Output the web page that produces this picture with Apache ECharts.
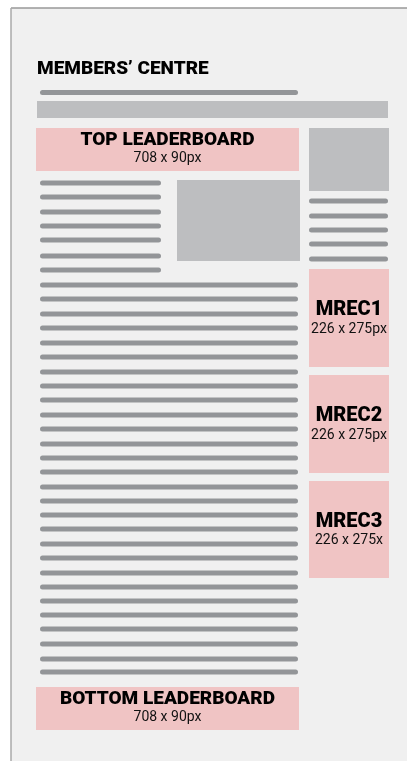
<!DOCTYPE html>
<html>
<head>
<meta charset="utf-8">
<script src="https://cdn.jsdelivr.net/npm/echarts@6/dist/echarts.min.js"></script>
<style>
html,body{margin:0;padding:0;background:#fff;}
#main{width:407px;height:761px;}
</style>
</head>
<body>
<div id="main"></div>
<script>
// page frame (layout units = px of the wireframe)
var frameBox = [11, 8, 407, 761];
// thin text lines: [xStart, xEnd, y]
var headLine = [[40, 298, 92.5]];
var shortLines = [[40,161,183],[40,161,197],[40,161,212],[40,161,226],[40,161,240],[40,161,256],[40,161,270]];
var longLineY = [285,299,314,328,343,357,372,386,400,415,429,444,458,472,487,501,515,529,544,558,573,587,601,615,629,644,659,672];
var sideLines = [[309,388,201],[309,388,216],[309,388,230],[309,388,244],[309,388,259]];
// grey placeholder blocks: [x0, y0, x1, y1]
var greyBlocks = [[37,101,388,118],[309,128,389,191],[177,180,300,261]];
// ad slots
var adNames = ['TOP LEADERBOARD','MREC1','MREC2','MREC3','BOTTOM LEADERBOARD'];
var adSizes = ['708 x 90px','226 x 275px','226 x 275px','226 x 275x','708 x 90px'];
var adBoxes = [[36,128,299,171],[309,269,389,367],[309,375,389,473],[309,481,389,578],[36,687,299,730]];

var allLines = headLine.concat(shortLines);
for(var i=0;i<longLineY.length;i++){
	allLines.push([40, 298, longLineY[i]]);
}
allLines = allLines.concat(sideLines);

var myChart = echarts.init(document.getElementById('main'));

function boxRect(api, b){
	var p0 = api.coord([b[0], b[1]]);
	var p1 = api.coord([b[2], b[3]]);
	return {x:p0[0], y:p0[1], width:p1[0]-p0[0], height:p1[1]-p0[1]};
}

var option = {
	backgroundColor:'#ffffff',
	animation:false,
	title:{
		text:'MEMBERS\u2019 CENTRE',
		left:37,
		top:60,
		padding:0,
		textStyle:{fontFamily:'Roboto',fontWeight:900,fontSize:19,color:'#000000'}
	},
	grid:{left:0,right:0,top:0,bottom:0},
	xAxis:{type:'value',min:0,max:407,show:false},
	yAxis:{type:'value',min:0,max:761,inverse:true,show:false},
	series:[
		{
			// frame background + top/left border
			type:'custom',
			z:1,
			data:[frameBox],
			renderItem:function(params, api){
				var r = boxRect(api, frameBox);
				return {type:'group',children:[
					{type:'rect',shape:r,style:{fill:'#f0f0f0'}},
					{type:'line',shape:{x1:r.x,y1:r.y,x2:r.x+r.width,y2:r.y},style:{stroke:'#999999',lineWidth:1.5}},
					{type:'line',shape:{x1:r.x,y1:r.y,x2:r.x,y2:r.y+r.height},style:{stroke:'#aaaaaa',lineWidth:1.5}}
				]};
			}
		},
		{
			type:'custom',
			z:2,
			data:greyBlocks,
			renderItem:function(params, api){
				var r = boxRect(api, greyBlocks[params.dataIndex]);
				return {type:'rect',shape:r,style:{fill:'#bdbec0'}};
			}
		},
		{
			type:'custom',
			z:2,
			data:allLines,
			renderItem:function(params, api){
				var p0 = api.coord([api.value(0), api.value(2)]);
				var p1 = api.coord([api.value(1), api.value(2)]);
				return {type:'rect',shape:{x:p0[0],y:p0[1]-2.5,width:p1[0]-p0[0],height:5,r:2.5},style:{fill:'#939598'}};
			}
		},
		{
			type:'custom',
			z:3,
			data:adBoxes,
			renderItem:function(params, api){
				var i = params.dataIndex;
				var r = boxRect(api, adBoxes[i]);
				var cx = r.x + r.width/2, cy = r.y + r.height/2;
				var isMrec = r.width < 120;
				return {type:'group',children:[
					{type:'rect',shape:r,style:{fill:'#f0c4c4'}},
					{type:'text',x:cx,y:cy+(isMrec?-8:-9),style:{text:adNames[i],fill:'#000000',align:'center',verticalAlign:'middle',
						font:'900 '+(isMrec?20:19)+'px Roboto'}},
					{type:'text',x:cx,y:cy+(isMrec?11:9),style:{text:adSizes[i],fill:'#111111',align:'center',verticalAlign:'middle',
						font:'14px Roboto'}}
				]};
			}
		}
	]
};
myChart.setOption(option);
</script>
</body>
</html>
